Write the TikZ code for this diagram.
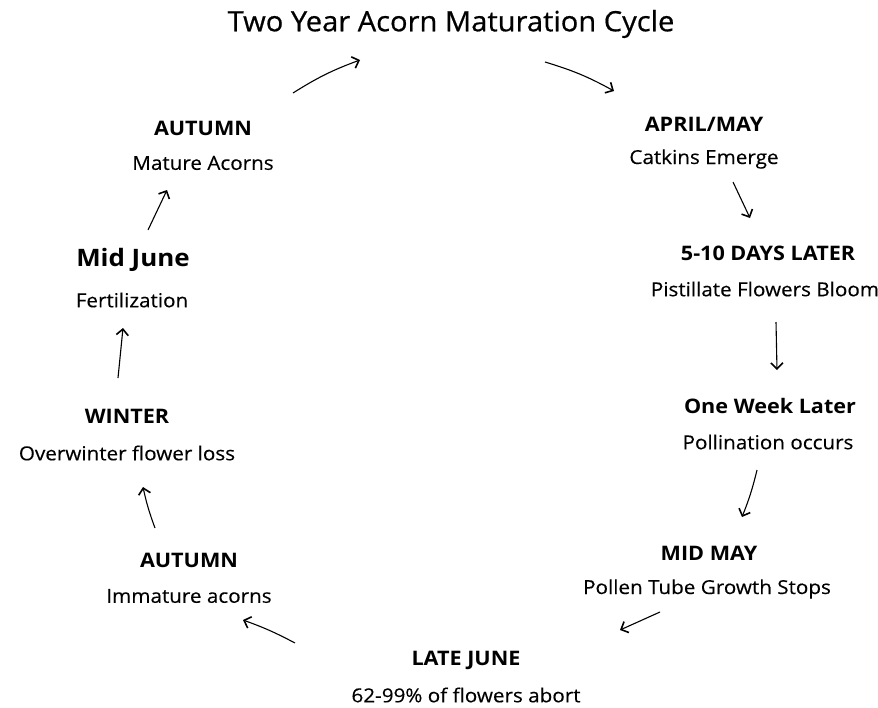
\documentclass[tikz,border=0pt]{standalone}
\usepackage{fontspec}
\setmainfont{Open Sans}
\newfontfamily\capfont[FakeStretch=1.07,FakeBold=0.3]{Open Sans}
\newfontfamily\headfont[FakeStretch=1.08]{Open Sans}
\newfontfamily\titlefont[FakeStretch=1.04,FakeBold=0.6]{Open Sans}
\usetikzlibrary{arrows.meta}
\tikzset{
  heading/.style={font=\headfont\fontsize{20}{23}\selectfont\bfseries, anchor=center, inner sep=0pt},
  caption/.style={font=\capfont\fontsize{19.3}{22}\selectfont, anchor=center, inner sep=0pt},
  cyclearrow/.style={line width=1.1pt, -{Straight Barb[length=6pt,width=12pt,line width=1.6pt]}}
}
\begin{document}
\begin{tikzpicture}[x=1pt,y=-1pt]
                \useasboundingbox (0,0) rectangle (878,707);
                
                % Title
                \node (title) at (451,24) [anchor=center, inner sep=0pt, font=\titlefont\fontsize{28}{31}\selectfont] {Two Year Acorn Maturation Cycle};%
                
                % Stage April/May
                \node (aprilmay) at (704,124) [heading] {APRIL/MAY};%
                \node (catkins) at (704,159) [caption] {Catkins Emerge};%
                
                % Stage 5-10 days later
                \node (fivedays) at (768,253) [heading] {5-10 DAYS LATER};%
                \node (pistillate) at (765,289) [caption] {Pistillate Flowers Bloom};%
                
                % Stage one week later
                \node (oneweek) at (770,406) [heading] {One Week Later};%
                \node (pollination) at (768,442) [caption] {Pollination occurs};%
                
                % Stage mid May
                \node (midmay) at (709,553) [heading] {MID MAY};%
                \node (pollentube) at (707,589) [caption] {Pollen Tube Growth Stops};%
                
                % Stage late June
                \node (latejune) at (466,660) [heading] {LATE JUNE};%
                \node (abort) at (466,695) [caption] {62-99\% of flowers abort};%
                
                % Stage autumn (immature)
                \node (autumnlow) at (189,560) [heading] {AUTUMN};%
                \node (immature) at (189,596) [caption] {Immature acorns};%
                
                % Stage winter
                \node (winter) at (127,416) [heading] {WINTER};%
                \node (overwinter) at (127,453) [caption] {Overwinter flower loss};%
                
                % Stage mid June
                \node (midjune) at (133,260) [heading, font=\headfont\fontsize{24}{27}\selectfont\bfseries] {Mid June};%
                \node (fertilization) at (132,300) [caption] {Fertilization};%
                
                % Stage autumn (mature)
                \node (autumntop) at (203,128) [heading] {AUTUMN};%
                \node (mature) at (203,163) [caption] {Mature Acorns};%
                
                % Arrow ends
                \coordinate (a1s) at (545,62);   \coordinate (a1e) at (614,91);
                \coordinate (a2s) at (733,182);  \coordinate (a2e) at (750,218);
                \coordinate (a3s) at (776,322);  \coordinate (a3e) at (777,370);
                \coordinate (a4s) at (757,470);  \coordinate (a4e) at (742,517);
                \coordinate (a5s) at (660,612);  \coordinate (a5e) at (620,630);
                \coordinate (a6s) at (295,643);  \coordinate (a6e) at (243,620);
                \coordinate (a7s) at (155,528);  \coordinate (a7e) at (143,487);
                \coordinate (a8s) at (118,378);  \coordinate (a8e) at (123,328);
                \coordinate (a9s) at (148,230);  \coordinate (a9e) at (167,190);
                \coordinate (a10s) at (293,93);  \coordinate (a10e) at (360,60);
                
                % Drawing arrows of the cycle
                \draw [cyclearrow] (a1s) to[bend left=6] (a1e);%
                \draw [cyclearrow] (a2s) -- (a2e);%
                \draw [cyclearrow] (a3s) -- (a3e);%
                \draw [cyclearrow] (a4s) to[bend left=4] (a4e);%
                \draw [cyclearrow] (a5s) -- (a5e);%
                \draw [cyclearrow] (a6s) to[bend right=4] (a6e);%
                \draw [cyclearrow] (a7s) to[bend left=4] (a7e);%
                \draw [cyclearrow] (a8s) -- (a8e);%
                \draw [cyclearrow] (a9s) -- (a9e);%
                \draw [cyclearrow] (a10s) to[bend left=6] (a10e);%
\end{tikzpicture}
\end{document}
